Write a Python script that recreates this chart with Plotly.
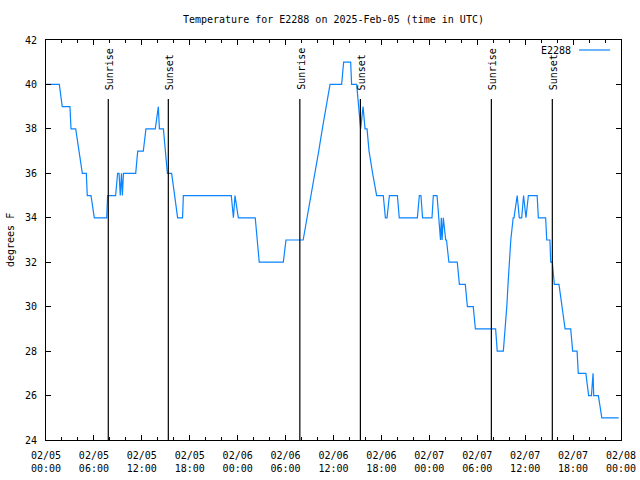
import plotly.graph_objects as go

# ---- data ----
times = [
    "2025-02-05 00:00", "2025-02-05 01:40", "2025-02-05 02:02", "2025-02-05 03:00", "2025-02-05 03:08",
    "2025-02-05 03:43", "2025-02-05 04:08", "2025-02-05 04:33", "2025-02-05 05:03", "2025-02-05 05:10",
    "2025-02-05 05:38", "2025-02-05 06:03", "2025-02-05 07:36", "2025-02-05 07:43", "2025-02-05 08:43",
    "2025-02-05 08:58", "2025-02-05 09:09", "2025-02-05 09:18", "2025-02-05 09:27", "2025-02-05 09:34",
    "2025-02-05 09:42", "2025-02-05 11:14", "2025-02-05 11:29", "2025-02-05 12:11", "2025-02-05 12:31",
    "2025-02-05 13:41", "2025-02-05 14:04", "2025-02-05 14:12", "2025-02-05 14:42", "2025-02-05 15:12",
    "2025-02-05 15:44", "2025-02-05 16:29", "2025-02-05 17:06", "2025-02-05 17:12", "2025-02-05 23:12",
    "2025-02-05 23:28", "2025-02-05 23:40", "2025-02-06 00:05", "2025-02-06 02:12", "2025-02-06 02:42",
    "2025-02-06 05:43", "2025-02-06 06:03", "2025-02-06 08:12", "2025-02-06 08:42", "2025-02-06 09:12",
    "2025-02-06 09:39", "2025-02-06 10:09", "2025-02-06 10:36", "2025-02-06 11:06", "2025-02-06 11:34",
    "2025-02-06 13:01", "2025-02-06 13:16", "2025-02-06 14:09", "2025-02-06 14:16", "2025-02-06 14:54",
    "2025-02-06 15:09", "2025-02-06 15:24", "2025-02-06 15:42", "2025-02-06 15:57", "2025-02-06 16:12",
    "2025-02-06 16:27", "2025-02-06 16:54", "2025-02-06 17:24", "2025-02-06 18:14", "2025-02-06 18:30",
    "2025-02-06 18:42", "2025-02-06 19:00", "2025-02-06 20:00", "2025-02-06 20:14", "2025-02-06 22:30",
    "2025-02-06 22:45", "2025-02-06 22:57", "2025-02-06 23:09", "2025-02-07 00:20", "2025-02-07 00:30",
    "2025-02-07 00:58", "2025-02-07 01:10", "2025-02-07 01:24", "2025-02-07 01:30", "2025-02-07 01:36",
    "2025-02-07 01:45", "2025-02-07 02:03", "2025-02-07 02:09", "2025-02-07 02:27", "2025-02-07 03:30",
    "2025-02-07 03:46", "2025-02-07 04:30", "2025-02-07 04:46", "2025-02-07 05:30", "2025-02-07 05:46",
    "2025-02-07 08:18", "2025-02-07 08:30", "2025-02-07 09:16", "2025-02-07 09:30", "2025-02-07 09:42",
    "2025-02-07 09:51", "2025-02-07 10:00", "2025-02-07 10:12", "2025-02-07 10:30", "2025-02-07 10:36",
    "2025-02-07 11:00", "2025-02-07 11:16", "2025-02-07 11:34", "2025-02-07 11:48", "2025-02-07 12:06",
    "2025-02-07 12:24", "2025-02-07 13:30", "2025-02-07 13:39", "2025-02-07 14:34", "2025-02-07 14:42",
    "2025-02-07 15:06", "2025-02-07 15:12", "2025-02-07 15:24", "2025-02-07 15:39", "2025-02-07 16:14",
    "2025-02-07 17:00", "2025-02-07 17:42", "2025-02-07 17:57", "2025-02-07 18:30", "2025-02-07 18:39",
    "2025-02-07 19:36", "2025-02-07 19:57", "2025-02-07 20:18", "2025-02-07 20:30", "2025-02-07 20:35",
    "2025-02-07 21:10", "2025-02-07 21:36", "2025-02-07 23:42",
]
temps = [
    40, 40, 39, 39, 38,
    38, 37, 36, 36, 35,
    35, 34, 34, 35, 35,
    36, 36, 35, 36, 35,
    36, 36, 37, 37, 38,
    38, 39, 38, 38, 36,
    36, 34, 34, 35, 35,
    34, 35, 34, 34, 32,
    32, 33, 33, 34, 35,
    36, 37, 38, 39, 40,
    40, 41, 41, 40, 40,
    39, 38, 39, 38, 38,
    37, 36, 35, 35, 34,
    34, 35, 35, 34, 34,
    35, 35, 34, 34, 35,
    35, 34, 33, 34, 33,
    34, 33, 33, 32, 32,
    31, 31, 30, 30, 29,
    29, 28, 28, 29, 30,
    31, 32, 33, 34, 34,
    35, 34, 34, 35, 34,
    35, 35, 34, 34, 33,
    33, 32, 32, 31, 31,
    29, 29, 28, 28, 27,
    27, 26, 26, 27, 26,
    26, 25, 25,
]

sun_times = ["2025-02-05 07:48", "2025-02-05 15:19",
             "2025-02-06 07:47", "2025-02-06 15:22",
             "2025-02-07 07:46", "2025-02-07 15:24"]
sun_labels = ["Sunrise", "Sunset", "Sunrise", "Sunset", "Sunrise", "Sunset"]

x_tick_vals = ["2025-02-05 00:00", "2025-02-05 06:00", "2025-02-05 12:00", "2025-02-05 18:00",
               "2025-02-06 00:00", "2025-02-06 06:00", "2025-02-06 12:00", "2025-02-06 18:00",
               "2025-02-07 00:00", "2025-02-07 06:00", "2025-02-07 12:00", "2025-02-07 18:00",
               "2025-02-08 00:00"]
x_tick_text = ["02/05<br>00:00", "02/05<br>06:00", "02/05<br>12:00", "02/05<br>18:00",
               "02/06<br>00:00", "02/06<br>06:00", "02/06<br>12:00", "02/06<br>18:00",
               "02/07<br>00:00", "02/07<br>06:00", "02/07<br>12:00", "02/07<br>18:00",
               "02/08<br>00:00"]
y_tick_vals = [24, 26, 28, 30, 32, 34, 36, 38, 40, 42]

series_name = "E2288"
title_text = "Temperature for E2288 on 2025-Feb-05 (time in UTC)"
y_title = "degrees F"

FONT = "DejaVu Sans Mono"
LINE_COLOR = "#0a84ff"

fig = go.Figure()
fig.add_trace(go.Scatter(x=times, y=temps, mode="lines",
                         line=dict(color=LINE_COLOR, width=1.2),
                         name=series_name, showlegend=False))

shapes = []
annotations = []
for t, lab in zip(sun_times, sun_labels):
    shapes.append(dict(type="line", xref="x", yref="paper", x0=t, x1=t, y0=0, y1=0.8525,
                       line=dict(color="black", width=1.2)))
    annotations.append(dict(x=t, y=0.87, xref="x", yref="paper", text=lab, textangle=-90,
                            showarrow=False, xanchor="center", yanchor="bottom", xshift=1,
                            font=dict(family=FONT, size=10, color="black")))

# legend (text left of sample line, gnuplot style)
annotations.append(dict(x=0.9165, y=0.975, xref="paper", yref="paper", text=series_name,
                        showarrow=False, xanchor="right", yanchor="middle",
                        font=dict(family=FONT, size=10, color="black")))
shapes.append(dict(type="line", xref="paper", yref="paper", x0=0.927, x1=0.981, y0=0.975, y1=0.975,
                   line=dict(color=LINE_COLOR, width=1.2)))

# y-axis title
annotations.append(dict(x=-0.0626, y=0.5, xref="paper", yref="paper", text=y_title, textangle=-90,
                        showarrow=False, xanchor="center", yanchor="middle",
                        font=dict(family=FONT, size=10, color="black")))

fig.update_layout(
    width=640, height=480,
    margin=dict(l=46, r=19, t=40, b=40, pad=0, autoexpand=False),
    paper_bgcolor="white", plot_bgcolor="white",
    font=dict(family=FONT, size=10, color="black"),
    title=dict(text=title_text, x=0.521, xanchor="center", y=1 - 19 / 480, yanchor="middle",
               yref="container", font=dict(family=FONT, size=10, color="black")),
    shapes=shapes, annotations=annotations,
    showlegend=False,
)
fig.update_xaxes(
    range=["2025-02-05 00:00", "2025-02-08 00:00"],
    tickvals=x_tick_vals, ticktext=x_tick_text,
    ticks="inside", ticklen=5, tickwidth=1, tickcolor="black",
    minor=dict(ticks="inside", ticklen=3, tickwidth=1, tickcolor="black",
               dtick=2 * 3600 * 1000, tick0="2025-02-05 00:00"),
    showline=True, linecolor="black", linewidth=1, mirror="ticks",
    showgrid=False, zeroline=False, ticklabelstandoff=6, automargin=False,
    tickfont=dict(family=FONT, size=10, color="black"),
)
fig.update_yaxes(
    range=[24, 42], tickvals=y_tick_vals,
    ticks="inside", ticklen=5, tickwidth=1, tickcolor="black",
    showline=True, linecolor="black", linewidth=1, mirror="ticks",
    showgrid=False, zeroline=False, ticklabelstandoff=6, automargin=False,
    tickfont=dict(family=FONT, size=10, color="black"),
)

fig.write_html("out.html")
